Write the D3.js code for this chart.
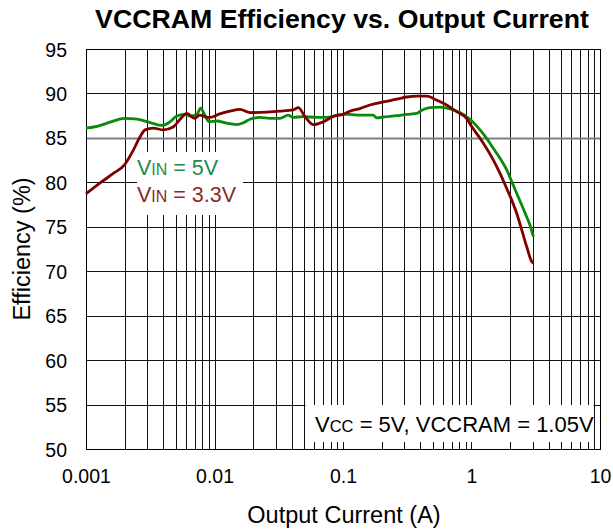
<!DOCTYPE html>
<html>
<head>
<meta charset="utf-8">
<script src="https://cdn.jsdelivr.net/npm/d3@7"></script>
<style>
  html, body { margin: 0; padding: 0; background: #fff; }
  svg { display: block; }
  text { font-family: Arial, "Liberation Sans", sans-serif; fill: #000; }
</style>
</head>
<body>
<svg id="chart" width="613" height="531"></svg>
<script>
// Efficiency vs. output current, VIN = 5 V
const currentVin5 = [0.001, 0.00122, 0.00156, 0.002, 0.0025, 0.0032, 0.0039, 0.0044, 0.0051, 0.0058,
  0.0065, 0.0073, 0.0078, 0.0085, 0.0091, 0.0104, 0.0124, 0.0149, 0.0168, 0.0189,
  0.0226, 0.027, 0.0323, 0.0375, 0.041, 0.049, 0.0624, 0.0747, 0.0893, 0.1,
  0.113, 0.1355, 0.172, 0.183, 0.206, 0.262, 0.313, 0.375, 0.41, 0.475,
  0.569, 0.681, 0.813, 0.973, 1.165, 1.312, 1.48, 1.667, 1.88, 2.056,
  2.25, 2.46, 2.69, 2.85, 3.03];
const effVin5 = [86.1, 86.3, 86.8, 87.2, 87.1, 86.7, 86.4, 86.7, 87.45, 87.65,
  87.45, 87.65, 88.35, 87.4, 86.8, 86.9, 86.65, 86.5, 86.7, 87.1,
  87.3, 87.2, 87.2, 87.55, 87.3, 87.4, 87.3, 87.3, 87.55, 87.65,
  87.65, 87.55, 87.55, 87.25, 87.35, 87.5, 87.65, 87.75, 88.1, 88.4,
  88.45, 88.25, 87.85, 87.1, 85.9, 84.95, 83.8, 82.7, 81.4, 80.1,
  78.75, 77.45, 76.1, 75.2, 73.9];

// Efficiency vs. output current, VIN = 3.3 V
const currentVin33 = [0.001, 0.00128, 0.00163, 0.002, 0.00233, 0.00263, 0.00288, 0.00334, 0.004, 0.0048,
  0.0054, 0.0061, 0.007, 0.0077, 0.0084, 0.0092, 0.011, 0.0132, 0.0158, 0.0189,
  0.0255, 0.0323, 0.041, 0.0449, 0.0506, 0.0588, 0.0701, 0.0841, 0.1, 0.113,
  0.1355, 0.162, 0.206, 0.262, 0.313, 0.375, 0.45, 0.535, 0.64, 0.765,
  0.915, 1.0, 1.165, 1.312, 1.48, 1.667, 1.88, 2.056, 2.25, 2.46,
  2.69, 2.94, 3.03];
const effVin33 = [78.7, 79.9, 81.0, 82.0, 83.6, 85.1, 85.9, 86.1, 85.9, 86.25,
  87.1, 87.75, 87.2, 87.55, 87.4, 87.3, 87.7, 88.0, 88.2, 87.85,
  87.9, 88.0, 88.15, 88.4, 87.4, 86.5, 86.8, 87.4, 87.65, 88.0,
  88.3, 88.7, 89.05, 89.35, 89.6, 89.7, 89.7, 89.25, 88.7, 87.95,
  87.2, 86.3, 84.95, 83.8, 82.5, 81.0, 79.3, 78.0, 76.5, 74.65,
  72.75, 71.1, 70.9];

// Axis ticks
const xTickValues = [0.001, 0.01, 0.1, 1, 10];
const xTickLabels = ["0.001", "0.01", "0.1", "1", "10"];
const yTickValues = [50, 55, 60, 65, 70, 75, 80, 85, 90, 95];

const svg = d3.select("#chart");
const margin = { left: 86, right: 13, top: 49, bottom: 82 };
const W = 613, H = 531;

const x = d3.scaleLog().domain([0.001, 10]).range([margin.left, W - margin.right]);
const y = d3.scaleLinear().domain([50, 95]).range([H - margin.bottom, margin.top]);

// Minor + major vertical grid positions (1..9 per decade)
const xGrid = [];
for (let e = -3; e < 1; e++) {
  for (let m = 1; m <= 9; m++) xGrid.push(m * Math.pow(10, e));
}
xGrid.push(10);

const grid = svg.append("g");
grid.selectAll("line.v").data(xGrid).join("line")
  .attr("x1", d => Math.round(x(d)) + 0.5).attr("x2", d => Math.round(x(d)) + 0.5)
  .attr("y1", y(95)).attr("y2", y(50))
  .attr("stroke", "#111").attr("stroke-width", 1);
grid.selectAll("line.h").data(yTickValues).join("line")
  .attr("x1", x(0.001)).attr("x2", x(10))
  .attr("y1", d => Math.round(y(d)) + 0.5).attr("y2", d => Math.round(y(d)) + 0.5)
  .attr("stroke", d => d === 85 ? "#808080" : "#111")
  .attr("stroke-width", d => d === 85 ? 2.2 : 1);

// Plot frame
svg.append("rect")
  .attr("x", x(0.001) + 0.5).attr("y", y(95) + 0.5)
  .attr("width", x(10) - x(0.001)).attr("height", y(50) - y(95))
  .attr("fill", "none").attr("stroke", "#000").attr("stroke-width", 1);

// Axes (labels only; grid provides the lines)
const xAxis = d3.axisBottom(x).tickValues(xTickValues)
  .tickFormat((d, i) => xTickLabels[i]).tickSize(0).tickPadding(0);
svg.append("g").attr("transform", `translate(0,${y(50)})`).call(xAxis)
  .call(g => g.select(".domain").remove())
  .selectAll("text").attr("font-size", 19.5).attr("font-family", "Arial, 'Liberation Sans', sans-serif")
  .attr("dy", "1.72em").attr("fill", "#000");

const yAxis = d3.axisLeft(y).tickValues(yTickValues).tickSize(0).tickPadding(19);
svg.append("g").attr("transform", `translate(${x(0.001)},0)`).call(yAxis)
  .call(g => g.select(".domain").remove())
  .selectAll("text").attr("font-size", 19.5).attr("font-family", "Arial, 'Liberation Sans', sans-serif")
  .attr("dy", "0.36em").attr("fill", "#000");

// Legend panel
svg.append("rect").attr("x", 137).attr("y", 152).attr("width", 106).attr("height", 63).attr("fill", "#fff");
function vinLabel(yPos, value, color) {
  const t = svg.append("text").attr("x", 137).attr("y", yPos).attr("font-size", 21.5).style("fill", color);
  t.append("tspan").text("V");
  t.append("tspan").attr("font-size", 16).text("IN");
  t.append("tspan").text(" = " + value);
}
vinLabel(175, "5V", "#1b8a4b");
vinLabel(201.5, "3.3V", "#8b2a2a");

// Conditions panel
svg.append("rect").attr("x", 305.5).attr("y", 405).attr("width", 288).attr("height", 37).attr("fill", "#fff");
const cond = svg.append("text").attr("x", 315).attr("y", 432).attr("font-size", 22);
cond.append("tspan").text("V");
cond.append("tspan").attr("font-size", 16.5).text("CC");
cond.append("tspan").text(" = 5V, VCCRAM = 1.05V");

// Curves
const line = d3.line().x(d => x(d[0])).y(d => y(d[1])).curve(d3.curveMonotoneX);
svg.append("path").datum(d3.zip(currentVin5, effVin5)).attr("d", line)
  .attr("fill", "none").attr("stroke", "#0a8a0a").attr("stroke-width", 2.8).attr("stroke-linejoin", "round");
svg.append("path").datum(d3.zip(currentVin33, effVin33)).attr("d", line)
  .attr("fill", "none").attr("stroke", "#800000").attr("stroke-width", 2.8).attr("stroke-linejoin", "round");

// Titles
svg.append("text").attr("x", 342).attr("y", 28).attr("text-anchor", "middle")
  .attr("font-size", 26.7).attr("font-weight", "bold").text("VCCRAM Efficiency vs. Output Current");
svg.append("text").attr("x", (x(0.001) + x(10)) / 2 + 1).attr("y", 523).attr("text-anchor", "middle")
  .attr("font-size", 23.5).text("Output Current (A)");
svg.append("text").attr("transform", `translate(30,${(y(50) + y(95)) / 2}) rotate(-90)`)
  .attr("text-anchor", "middle").attr("font-size", 23.5).text("Efficiency (%)");
</script>
</body>
</html>
